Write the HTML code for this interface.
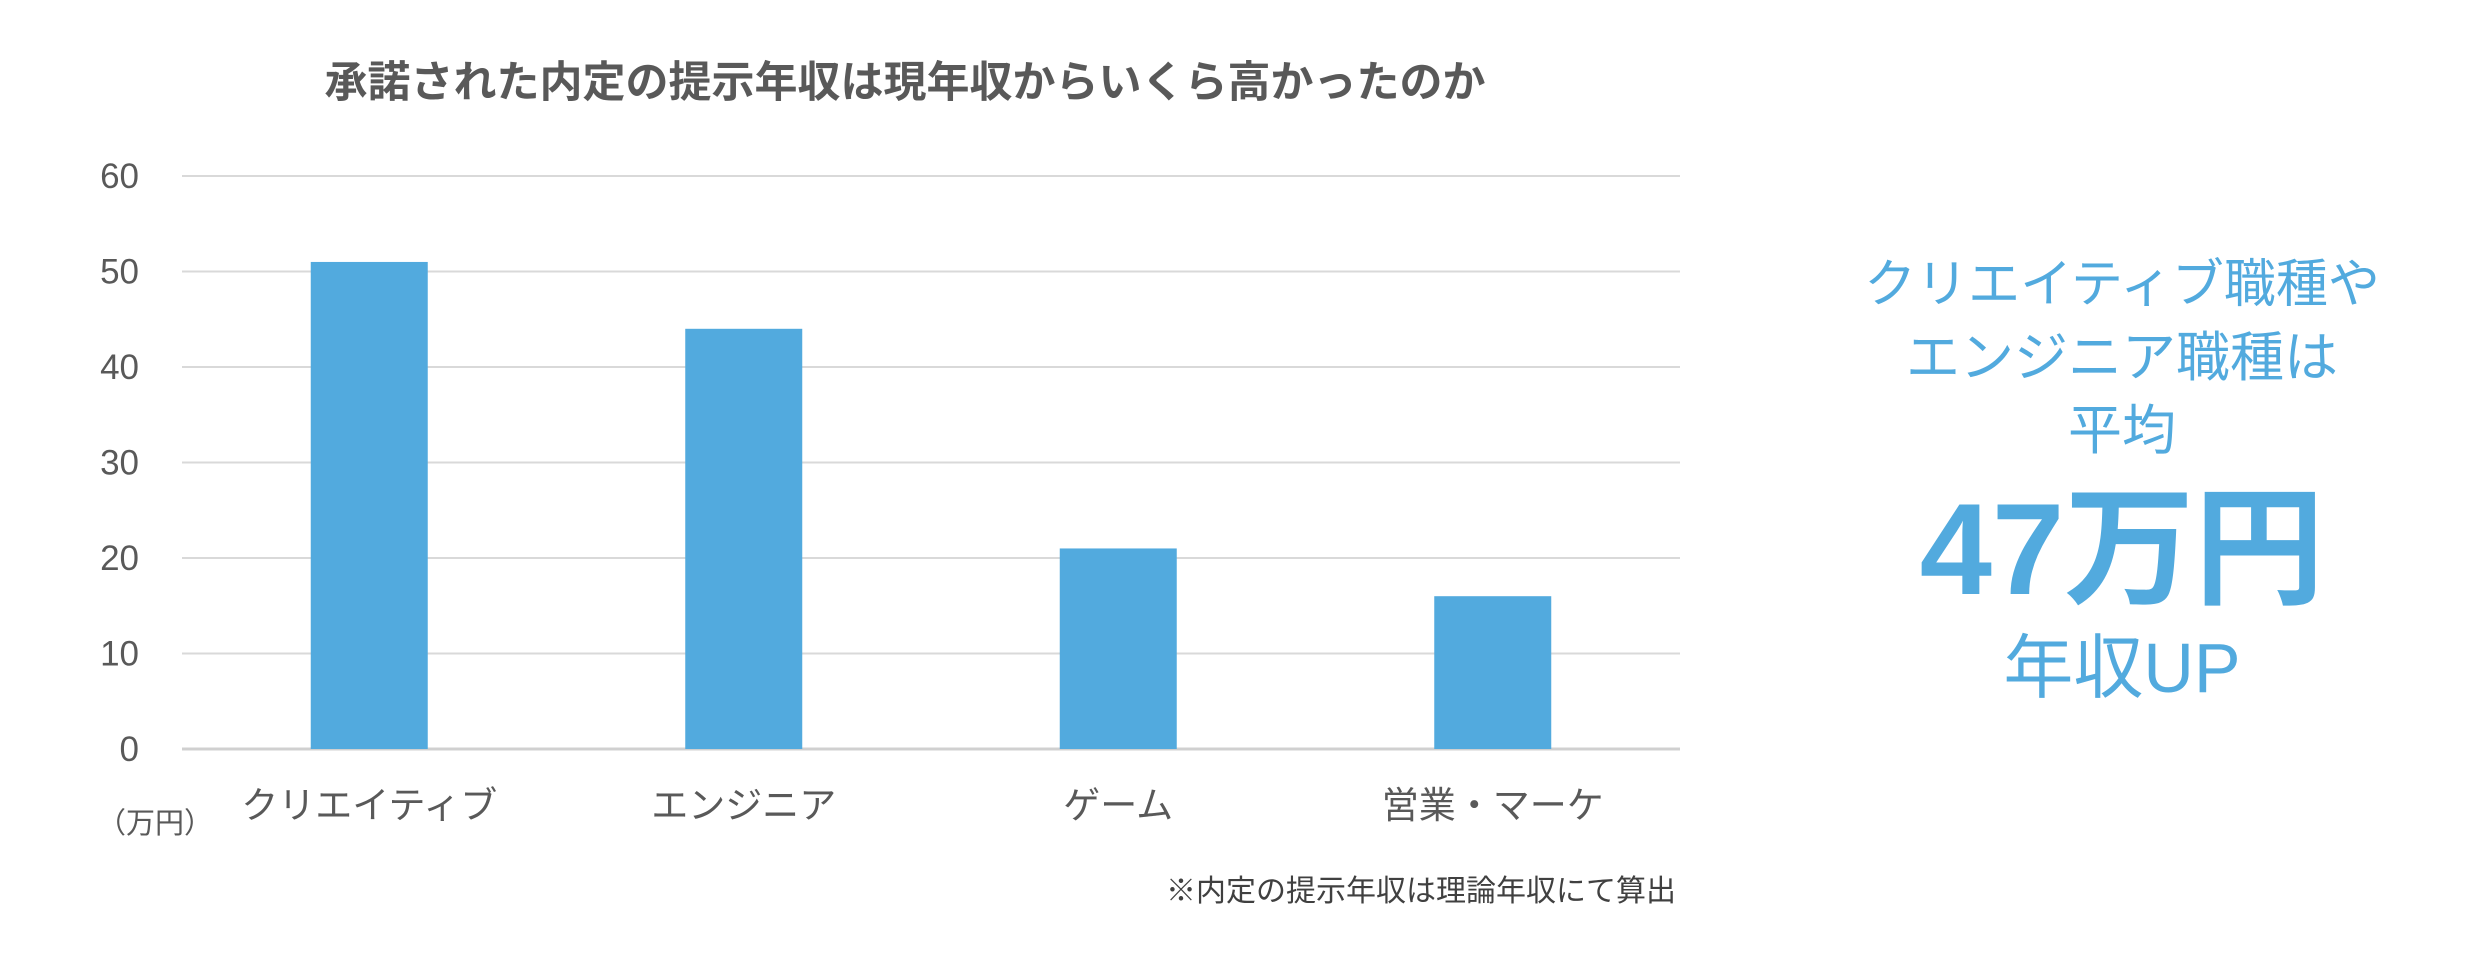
<!DOCTYPE html>
<html><head><meta charset="utf-8">
<style>
body{margin:0;width:2478px;height:970px;background:#fff;overflow:hidden;font-family:"Liberation Sans","Noto Sans CJK JP",sans-serif;}
svg text{font-family:"Liberation Sans","Noto Sans CJK JP",sans-serif;}
</style></head>
<body>
<svg id="chart" width="2478" height="970" xmlns="http://www.w3.org/2000/svg">
<text x="905" y="97" text-anchor="middle" font-size="43" font-weight="bold" fill="#595959">承諾された内定の提示年収は現年収からいくら高かったのか</text>
<g id="grid"></g>
<g id="bars"></g>
<g id="xlabels"></g>
<text x="155" y="833" text-anchor="middle" font-size="29" fill="#595959">（万円）</text>
<text x="1676" y="901" text-anchor="end" font-size="30" fill="#404040">※内定の提示年収は理論年収にて算出</text>
<g fill="#52aade" text-anchor="middle">
<text x="2122" y="302" font-size="52">クリエイティブ職種や</text>
<text x="2122" y="376" font-size="54">エンジニア職種は</text>
<text x="2122" y="449" font-size="54">平均</text>
<text x="2122" y="594" font-size="130" font-weight="bold">47万円</text>
<text x="2122" y="692" font-size="70">年収UP</text>
</g>
</svg>
<script>
const categories=["クリエイティブ","エンジニア","ゲーム","営業・マーケ"];
const values=[51,44,21,16];
const ticks=[0,10,20,30,40,50,60];
const NS="http://www.w3.org/2000/svg";
const x0=182,x1=1680,yTop=176,yBot=749,yMax=60;
function y(v){return yBot-(v/yMax)*(yBot-yTop);}
const band=(x1-x0)/categories.length;
function xc(i){return x0+band*(i+0.5);}
const barW=117;
const grid=document.getElementById('grid');
ticks.forEach(t=>{
  const l=document.createElementNS(NS,'line');
  l.setAttribute('x1',x0);l.setAttribute('x2',x1);l.setAttribute('y1',y(t));l.setAttribute('y2',y(t));
  l.setAttribute('stroke',t===0?'#d0d0d0':'#d9d9d9');l.setAttribute('stroke-width',t===0?3:2);
  
  
  grid.appendChild(l);
  const tx=document.createElementNS(NS,'text');
  tx.setAttribute('x',139);tx.setAttribute('y',y(t)+12);tx.setAttribute('text-anchor','end');
  tx.setAttribute('font-size','35');tx.setAttribute('fill','#595959');tx.textContent=t;
  
  
  grid.appendChild(tx);
});
const bars=document.getElementById('bars'),xl=document.getElementById('xlabels');
values.forEach((v,i)=>{
  const r=document.createElementNS(NS,'rect');
  r.setAttribute('x',xc(i)-barW/2);r.setAttribute('width',barW);
  r.setAttribute('y',y(v));r.setAttribute('height',yBot-y(v));r.setAttribute('fill','#52aade');
  
  
  bars.appendChild(r);
  const t=document.createElementNS(NS,'text');
  t.setAttribute('x',xc(i));t.setAttribute('y',818);t.setAttribute('text-anchor','middle');
  t.setAttribute('font-size','37');t.setAttribute('fill','#595959');t.textContent=categories[i];
  
  
  xl.appendChild(t);
});
</script>
</body></html>
